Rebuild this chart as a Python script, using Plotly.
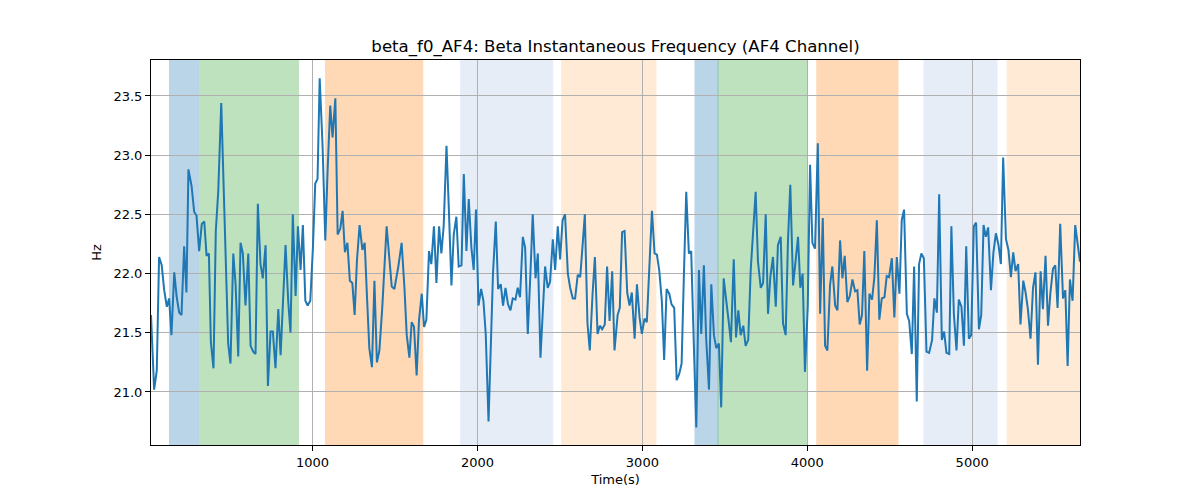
import plotly.graph_objects as go

# Time (s) and frequency (Hz)
time_s = [20, 39, 55, 69, 85, 100, 116, 130, 144, 161, 176, 191, 205, 221, 235, 247, 266, 282, 296, 312,
          328, 343, 357, 371, 383, 399, 413, 428, 446, 468, 488, 502, 519, 533, 549, 563, 577, 593, 610, 624,
          640, 654, 668, 684, 698, 715, 729, 745, 759, 775, 792, 806, 820, 836, 852, 866, 880, 897, 911, 927,
          941, 956, 970, 986, 1002, 1016, 1030, 1043, 1061, 1077, 1091, 1107, 1121, 1138, 1152, 1168, 1182, 1196, 1211, 1226,
          1241, 1255, 1269, 1285, 1302, 1316, 1330, 1344, 1360, 1375, 1390, 1405, 1422, 1435, 1449, 1480, 1496, 1520, 1540, 1557,
          1571, 1587, 1601, 1615, 1631, 1645, 1662, 1676, 1690, 1706, 1720, 1736, 1751, 1767, 1781, 1795, 1812, 1827, 1842, 1856,
          1872, 1886, 1903, 1917, 1933, 1947, 1963, 1977, 1991, 2006, 2022, 2036, 2050, 2067, 2080, 2094, 2111, 2125, 2141, 2155,
          2170, 2185, 2200, 2214, 2230, 2244, 2258, 2275, 2289, 2305, 2321, 2335, 2352, 2366, 2382, 2396, 2410, 2426, 2440, 2457,
          2471, 2487, 2501, 2516, 2531, 2548, 2562, 2578, 2592, 2608, 2623, 2637, 2651, 2667, 2681, 2698, 2712, 2728, 2742, 2756,
          2772, 2786, 2801, 2817, 2831, 2850, 2863, 2877, 2892, 2908, 2922, 2936, 2953, 2967, 2983, 2997, 3013, 3027, 3041, 3058,
          3074, 3088, 3102, 3118, 3132, 3147, 3163, 3177, 3193, 3208, 3223, 3238, 3252, 3266, 3282, 3296, 3311, 3327, 3343, 3357,
          3373, 3387, 3404, 3418, 3434, 3448, 3464, 3478, 3493, 3509, 3523, 3537, 3554, 3568, 3582, 3596, 3612, 3626, 3642, 3657,
          3673, 3687, 3701, 3718, 3732, 3748, 3762, 3776, 3792, 3809, 3822, 3839, 3853, 3869, 3883, 3897, 3914, 3928, 3944, 3958,
          3972, 3986, 4003, 4017, 4031, 4047, 4064, 4078, 4094, 4108, 4122, 4138, 4152, 4169, 4183, 4199, 4213, 4227, 4243, 4258,
          4274, 4290, 4304, 4318, 4332, 4346, 4363, 4377, 4393, 4407, 4422, 4437, 4452, 4468, 4482, 4496, 4513, 4528, 4543, 4559,
          4573, 4587, 4604, 4618, 4634, 4648, 4664, 4678, 4692, 4707, 4723, 4739, 4757, 4771, 4786, 4800, 4816, 4830, 4844, 4861,
          4874, 4889, 4905, 4919, 4935, 4950, 4964, 4980, 4994, 5010, 5024, 5041, 5055, 5069, 5083, 5097, 5114, 5129, 5144, 5160,
          5174, 5188, 5205, 5220, 5235, 5249, 5263, 5279, 5293, 5310, 5324, 5338, 5354, 5369, 5384, 5399, 5415, 5429, 5445, 5460,
          5474, 5490, 5504, 5518, 5534, 5551, 5565, 5579, 5593, 5609, 5625, 5639, 5654]

freq_hz = [21.65, 21.02, 21.18, 22.14, 22.07, 21.86, 21.72, 21.79, 21.48, 22.01, 21.80, 21.67, 21.65, 22.23, 21.84, 22.88, 22.74, 22.52, 22.49, 22.19,
           22.42, 22.44, 22.15, 22.17, 21.42, 21.20, 22.36, 22.70, 23.44, 22.30, 21.41, 21.24, 22.17, 21.91, 21.30, 22.26, 22.17, 21.73, 22.17, 21.39,
           21.34, 21.32, 22.59, 22.08, 21.96, 22.24, 21.05, 21.51, 21.51, 21.20, 21.70, 21.31, 21.77, 22.24, 21.77, 21.50, 22.50, 21.81, 22.40, 22.03,
           22.41, 21.77, 21.73, 21.77, 22.22, 22.76, 22.80, 23.65, 23.06, 22.28, 22.87, 23.42, 23.15, 23.48, 22.33, 22.38, 22.53, 22.18, 22.26, 21.94,
           21.92, 21.65, 22.11, 22.41, 22.20, 22.26, 21.80, 21.37, 21.21, 21.94, 21.25, 21.35, 21.70, 22.10, 22.40, 21.89, 21.87, 22.06, 22.26, 21.88,
           21.48, 21.29, 21.59, 21.55, 21.14, 21.60, 21.83, 21.55, 21.61, 22.19, 22.08, 22.40, 21.92, 22.40, 22.17, 22.40, 23.08, 22.52, 21.90, 22.33,
           22.48, 22.06, 22.07, 22.84, 22.19, 22.63, 22.22, 22.03, 22.54, 21.73, 21.87, 21.77, 21.49, 20.75, 21.35, 22.00, 22.44, 21.87, 21.91, 21.73,
           21.88, 21.74, 21.69, 21.79, 21.78, 21.88, 21.80, 22.31, 22.22, 21.49, 22.00, 22.50, 21.96, 22.17, 21.29, 21.68, 22.06, 21.88, 21.93, 22.29,
           22.03, 22.40, 22.12, 22.45, 22.50, 22.00, 21.88, 21.79, 21.79, 21.99, 21.97, 22.23, 22.50, 21.58, 21.35, 21.83, 22.14, 21.49, 21.56, 21.53,
           21.57, 22.06, 21.60, 22.02, 21.35, 21.65, 21.71, 22.35, 22.36, 21.84, 21.73, 21.84, 21.45, 21.91, 21.63, 21.49, 21.62, 21.59, 22.00, 22.53,
           22.17, 22.16, 22.03, 21.77, 21.27, 21.87, 21.83, 21.74, 21.71, 21.10, 21.15, 21.24, 22.00, 22.69, 22.17, 22.19, 21.45, 20.70, 22.03, 21.49,
           22.07, 21.45, 21.02, 21.91, 21.48, 21.37, 21.41, 20.87, 21.96, 21.79, 21.60, 21.42, 22.12, 21.46, 21.69, 21.48, 21.56, 21.39, 21.44, 22.03,
           22.36, 22.69, 22.10, 21.88, 21.92, 22.50, 21.66, 21.97, 22.14, 21.72, 22.24, 22.31, 21.58, 21.48, 22.28, 22.75, 21.90, 22.11, 22.31, 21.88,
           22.00, 21.17, 21.72, 22.92, 22.26, 22.21, 23.10, 21.66, 22.47, 21.39, 21.35, 21.90, 22.06, 21.73, 21.69, 22.28, 21.96, 22.15, 21.76, 21.81,
           21.95, 21.85, 21.86, 21.57, 21.65, 22.19, 21.18, 21.83, 21.78, 21.97, 22.45, 21.61, 21.79, 21.80, 21.98, 21.97, 22.13, 21.63, 22.14, 21.83,
           22.45, 22.54, 21.66, 21.60, 21.32, 22.06, 20.92, 22.08, 22.17, 22.13, 21.34, 21.33, 21.44, 21.79, 21.67, 22.67, 21.44, 21.51, 21.33, 21.32,
           22.40, 21.66, 21.35, 21.78, 21.72, 21.39, 22.23, 21.45, 21.48, 22.40, 22.43, 21.53, 21.65, 22.41, 22.31, 22.39, 21.86, 22.18, 22.34, 22.24,
           22.08, 22.98, 22.29, 22.20, 21.97, 22.18, 22.02, 22.08, 21.57, 21.94, 21.84, 21.70, 21.45, 21.88, 22.01, 21.23, 22.02, 21.70, 22.15, 21.56,
           21.83, 22.04, 22.07, 21.71, 22.42, 21.79, 21.86, 21.22, 21.95, 21.77, 22.41, 22.26, 22.10]

# Shaded intervals: (start, end, color, opacity)
span_start = [132, 314, 1079, 1898, 2511, 3319, 3459, 4058, 4708, 5212]
span_end = [308, 915, 1668, 2456, 3082, 3459, 3999, 4550, 5151, 5654]
span_color = ["#1f77b4", "#2ca02c", "#ff7f0e", "#aec7e8", "#ffbb78",
              "#1f77b4", "#2ca02c", "#ff7f0e", "#aec7e8", "#ffbb78"]
span_alpha = [0.3, 0.3, 0.3, 0.3, 0.3, 0.3, 0.3, 0.3, 0.3, 0.3]

fig = go.Figure()

for s, e, c, a in zip(span_start, span_end, span_color, span_alpha):
    fig.add_vrect(x0=s, x1=e, fillcolor=c, opacity=a, layer="below",
                  line=dict(color=c, width=1))

fig.add_trace(go.Scatter(x=time_s, y=freq_hz, mode="lines",
                         line=dict(color="#1f77b4", width=2), showlegend=False))

axis_common = dict(showline=True, linecolor="black", linewidth=1, mirror=True,
                   ticks="outside", ticklen=5, tickcolor="black",
                   showgrid=True, gridcolor="#b0b0b0", gridwidth=1, zeroline=False,
                   tickfont=dict(family="DejaVu Sans", size=13, color="black"))

fig.update_layout(
    width=1200, height=500,
    margin=dict(l=143, r=128, t=52, b=63),
    plot_bgcolor="white", paper_bgcolor="white",
    font=dict(family="DejaVu Sans", size=13, color="black"),
    title=dict(text="beta_f0_AF4: Beta Instantaneous Frequency (AF4 Channel)",
               xref="paper", x=0.5, xanchor="center", y=0.924, yanchor="middle",
               font=dict(family="DejaVu Sans", size=16.6, color="black")),
    xaxis=dict(range=[time_s[0], time_s[-1]], tickvals=[1000, 2000, 3000, 4000, 5000],
               title=dict(text="Time(s)", font=dict(size=13), standoff=6), **axis_common),
    yaxis=dict(range=[20.552, 23.804], tickvals=[21.0, 21.5, 22.0, 22.5, 23.0, 23.5],
               tickformat=".1f",
               title=dict(text="Hz", font=dict(size=13), standoff=8), **axis_common),
)

fig.write_html("out.html")
